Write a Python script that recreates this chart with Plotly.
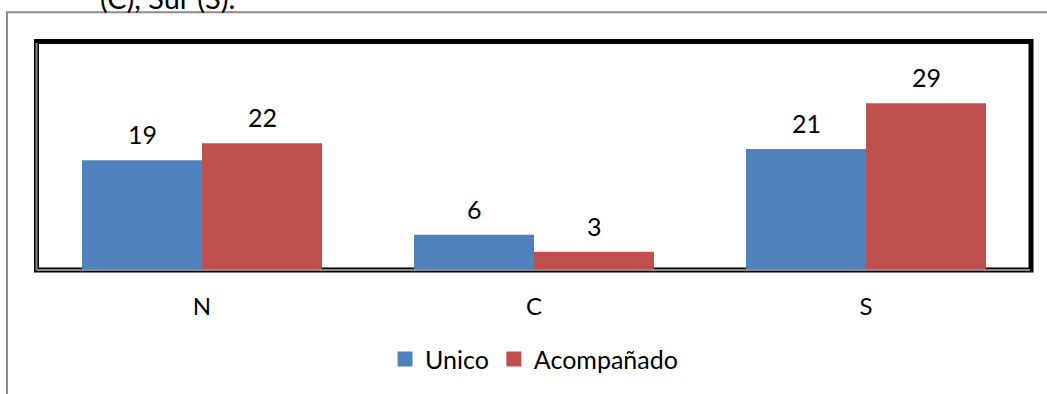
import plotly.graph_objects as go

# Region categories and counts per group
regions = ["N", "C", "S"]
unico = [19, 6, 21]
acompanado = [22, 3, 29]
series_names = ["Unico", "Acompañado"]
colors = ["#4F81BD", "#C0504D"]

FONT = "Lato"
W, H = 1047, 394
M_L, M_R, M_T, M_B = 36, 15, 42, 123
PLOT_W = W - M_L - M_R
PLOT_H = H - M_T - M_B


def px_to_paper_y(py):
    return (H - M_B - py) / PLOT_H


def px_to_paper_x(px):
    return (px - M_L) / PLOT_W


fig = go.Figure()

for name, vals, col in zip(series_names, [unico, acompanado], colors):
    fig.add_trace(go.Bar(
        x=regions, y=vals, name=name,
        marker=dict(color=col, line=dict(width=0)),
        showlegend=False,
    ))
    # legend swatch
    fig.add_trace(go.Scatter(
        x=[None], y=[None], mode="markers", name=name,
        marker=dict(symbol="square", size=15, color=col),
        showlegend=True,
    ))

# value labels above each bar
annotations = []
for i, (vals, shift) in enumerate([(unico, -60), (acompanado, 60)]):
    for cat, v in zip(regions, vals):
        annotations.append(dict(
            x=cat, y=v, xref="x", yref="y", text=str(v), showarrow=False,
            xshift=shift, yshift=26, yanchor="middle",
            font=dict(family=FONT, size=25, color="black"),
        ))

# clipped caption line above the chart
annotations.append(dict(
    x=px_to_paper_x(98), y=px_to_paper_y(-3), xref="paper", yref="paper",
    xanchor="left", yanchor="middle", text="(C), Sur (S).", showarrow=False,
    font=dict(family=FONT, size=29, color="black"),
))

shapes = [
    # outer chart-area border
    dict(type="rect", xref="paper", yref="paper",
         x0=px_to_paper_x(7), x1=px_to_paper_x(1100),
         y0=px_to_paper_y(500), y1=px_to_paper_y(12),
         line=dict(color="#8c8c8c", width=2), layer="below"),
    # plot-area frame
    dict(type="rect", xref="paper", yref="paper",
         x0=px_to_paper_x(36.5), x1=px_to_paper_x(1031),
         y0=px_to_paper_y(272), y1=px_to_paper_y(41.5),
         line=dict(color="black", width=5), layer="below"),
    dict(type="line", xref="paper", yref="paper",
         x0=px_to_paper_x(36.5), x1=px_to_paper_x(1030),
         y0=px_to_paper_y(272), y1=px_to_paper_y(272),
         line=dict(color="#8a8a8a", width=2), layer="below"),
    dict(type="line", xref="paper", yref="paper",
         x0=px_to_paper_x(36.5), x1=px_to_paper_x(36.5),
         y0=px_to_paper_y(272), y1=px_to_paper_y(43),
         line=dict(color="#8a8a8a", width=2), layer="below"),
]

fig.update_layout(
    width=W, height=H,
    margin=dict(l=M_L, r=M_R, t=M_T, b=M_B, pad=0),
    paper_bgcolor="white", plot_bgcolor="white",
    barmode="group", bargap=0.277, bargroupgap=0,
    font=dict(family=FONT, size=24, color="black"),
    xaxis=dict(type="category", categoryorder="array", categoryarray=regions,
               range=[-0.5, 2.5], showgrid=False, showline=False, zeroline=False,
               ticks="outside", ticklen=16, tickcolor="rgba(0,0,0,0)",
               tickfont=dict(family=FONT, size=24, color="black"), fixedrange=True),
    yaxis=dict(visible=False, range=[0, 39.7], fixedrange=True),
    legend=dict(orientation="h", x=0.5, xanchor="center",
                y=px_to_paper_y(362), yanchor="middle",
                font=dict(family=FONT, size=25, color="black"),
                itemwidth=30, tracegroupgap=0, bgcolor="rgba(0,0,0,0)"),
    annotations=annotations,
    shapes=shapes,
)

fig.write_html("out.html")
